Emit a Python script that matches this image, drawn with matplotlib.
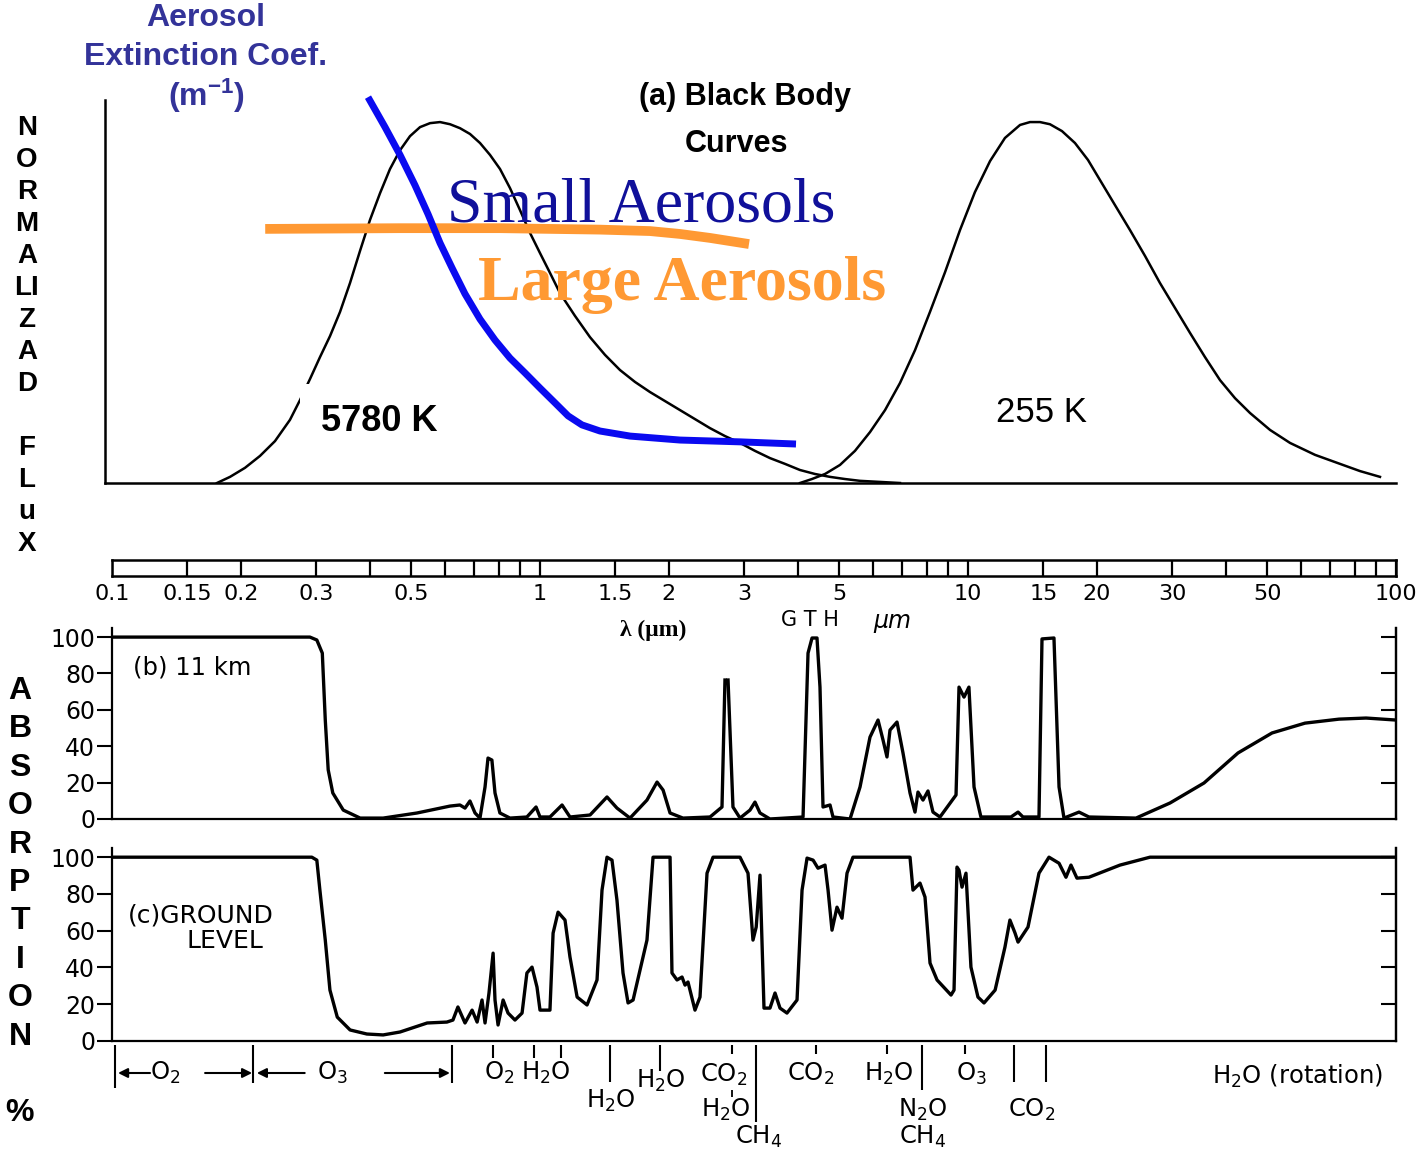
"""Black-body curves with aerosol extinction, and atmospheric absorption vs wavelength."""

import matplotlib
matplotlib.use("Agg")
import matplotlib.pyplot as plt

W, H = 1427, 1153
NAN = float("nan")

# (a) normalised black-body curves (x: wavelength in um)
sun_wl = [0.1759, 0.1887, 0.2045, 0.2217, 0.2403, 0.2605, 0.2750, 0.2901, 0.3062, 0.3231,
          0.3410, 0.3598, 0.3797, 0.4007, 0.4229, 0.4462, 0.4709, 0.4969, 0.5244, 0.5534,
          0.5840, 0.6163, 0.6503, 0.6862, 0.7241, 0.7642, 0.8064, 0.8510, 0.8980, 0.9476,
          1.0, 1.0553, 1.1136, 1.2070, 1.3087, 1.4185, 1.5377, 1.6670, 1.8071, 1.9589,
          2.1236, 2.3021, 2.4955, 2.7052, 2.9326, 3.1789, 3.4460, 3.7356, 4.0496, 4.3898,
          4.7587, 5.1586, 5.5920, 6.2287, 6.9359]
sun_val = [0.0, 0.017, 0.042, 0.075, 0.116, 0.175, 0.230, 0.288, 0.349, 0.407,
           0.474, 0.554, 0.643, 0.729, 0.803, 0.870, 0.922, 0.961, 0.986, 0.997,
           1.0, 0.994, 0.983, 0.967, 0.942, 0.909, 0.870, 0.817, 0.756, 0.693,
           0.637, 0.582, 0.526, 0.463, 0.404, 0.355, 0.313, 0.280, 0.252, 0.227,
           0.202, 0.177, 0.152, 0.130, 0.111, 0.089, 0.069, 0.053, 0.036, 0.025,
           0.017, 0.011, 0.006, 0.003, 0.0]

earth_wl = [4.050, 4.319, 4.634, 5.022, 5.444, 5.902, 6.400, 6.936, 7.519, 8.150,
            8.837, 9.580, 10.38, 11.26, 12.20, 13.23, 13.96, 14.73, 15.54, 16.58,
            17.78, 19.07, 20.35, 22.05, 23.90, 25.92, 28.09, 30.45, 33.01, 35.78,
            38.80, 42.06, 45.59, 50.78, 56.55, 64.68, 73.98, 82.40, 91.75]
earth_val = [0.0, 0.011, 0.025, 0.050, 0.089, 0.141, 0.202, 0.277, 0.368, 0.474,
             0.584, 0.701, 0.806, 0.892, 0.956, 0.992, 1.0, 1.0, 0.994, 0.975,
             0.942, 0.895, 0.839, 0.770, 0.701, 0.629, 0.554, 0.485, 0.416, 0.349,
             0.285, 0.235, 0.194, 0.147, 0.111, 0.078, 0.053, 0.033, 0.017]

small_wl = [0.3964, 0.4344, 0.4709, 0.5104, 0.5475, 0.5840, 0.6229, 0.6679, 0.7241, 0.7850,
            0.8510, 0.9225, 1.0, 1.084, 1.163, 1.253, 1.381, 1.623, 2.124, 2.933, 3.964]
small_val = [1.069, 0.986, 0.909, 0.825, 0.745, 0.665, 0.596, 0.524, 0.454, 0.396,
             0.346, 0.305, 0.263, 0.222, 0.186, 0.161, 0.144, 0.130, 0.119, 0.114, 0.108]

large_wl = [0.228, 0.471, 0.806, 1.381, 1.807, 2.124, 2.496, 3.078]
large_val = [0.704, 0.706, 0.706, 0.702, 0.698, 0.690, 0.679, 0.662]

# wavelength ruler
ruler_major = [0.1, 0.15, 0.2, 0.3, 0.5, 1, 1.5, 2, 3, 5, 10, 15, 20, 30, 50, 100]
ruler_labels = ["0.1", "0.15", "0.2", "0.3", "0.5", "1", "1.5", "2", "3", "5",
                "10", "15", "20", "30", "50", "100"]
ruler_minor = [0.4, 0.6, 0.7, 0.8, 0.9, 4, 6, 7, 8, 9, 40, 60, 70, 80, 90]

# (b) absorption at 11 km, percent
km11_wl = [0.1, 0.290, 0.301, 0.310, 0.315, 0.320, 0.328, 0.347, 0.380, 0.430,
           0.516, 0.616, 0.650, 0.668, 0.686, 0.705, 0.724, 0.744, 0.756, 0.772,
           0.785, 0.806, 0.851, 0.932, 0.979, 1.0, 1.055, 1.126, 1.175, 1.309,
           1.434, 1.513, 1.623, 1.778, 1.877, 1.939, 2.013, 2.158, 2.496, 2.662,
           2.705, 2.727, 2.750, 2.824, 2.933, 3.095, 3.179, 3.266, 3.446, 4.117,
           4.229, 4.321, 4.438, 4.510, 4.584, 4.760, 4.837, 5.301, 5.594, 5.902,
           6.163, 6.331, 6.467, 6.573, 6.825, 7.049, 7.320, 7.519, 7.641, 7.850,
           8.063, 8.283, 8.601, 9.376, 9.528, 9.788, 10.05, 10.33, 10.72, 12.60,
           13.09, 13.44, 14.65, 14.89, 15.88, 16.32, 16.76, 18.17, 19.17, 24.69,
           29.65, 35.60, 42.74, 51.33, 61.29, 73.59, 85.12, 100]
km11_pct = [100, 100, 98.4, 91.2, 54.4, 27, 14.3, 4.9, 0.5, 0.5,
            3.3, 7.1, 7.7, 6.0, 9.9, 3.3, 0.5, 17.6, 33.5, 32.4,
            14.3, 3.3, 0.5, 1.1, 6.6, 1.1, 1.1, 7.7, 1.1, 2.2,
            12.1, 6.0, 0.5, 10.4, 20.3, 15.9, 3.3, 0.5, 1.1, 6.6,
            76.4, NAN, 76.4, 6.6, 0.5, 4.9, 9.3, 3.3, 0, 1.1,
            91.2, 99.5, 99.5, 72.5, 6.6, 7.7, 1.1, 0, 17.6, 45,
            54.4, 43.4, 34.1, 48.9, 53.3, 36.3, 14.3, 3.8, 14.8, 10.4,
            15.4, 3.8, 1.1, 13.2, 72.5, 67, 72.5, 17.6, 1.1, 1.1,
            3.8, 1.1, 1.1, 99.0, 99.5, 17.6, 0.5, 3.8, 1.1, 0.5,
            8.8, 19.8, 36.3, 47.3, 52.7, 54.9, 55.5, 54.4]

# (c) absorption at ground level, percent
ground_wl = [0.1, 0.293, 0.301, 0.306, 0.315, 0.323, 0.336, 0.360, 0.394, 0.430,
             0.471, 0.545, 0.606, 0.626, 0.643, 0.668, 0.694, 0.713, 0.732, 0.744,
             0.760, 0.777, 0.785, 0.798, 0.820, 0.842, 0.874, 0.908, 0.932, 0.958,
             0.984, 1.0, 1.055, 1.073, 1.102, 1.144, 1.175, 1.221, 1.288, 1.359,
             1.396, 1.434, 1.473, 1.513, 1.563, 1.606, 1.650, 1.778, 1.837, 2.013,
             2.034, 2.090, 2.147, 2.182, 2.217, 2.302, 2.365, 2.456, 2.537, 2.933,
             3.062, 3.145, 3.200, 3.266, 3.337, 3.446, 3.541, 3.637, 3.776, 3.986,
             4.095, 4.207, 4.346, 4.462, 4.634, 4.710, 4.811, 4.942, 5.077, 5.216,
             5.386, 7.320, 7.438, 7.724, 7.935, 8.152, 8.466, 9.127, 9.276, 9.426,
             9.528, 9.683, 9.892, 10.16, 10.55, 10.90, 11.57, 12.20, 12.53, 12.88,
             13.09, 13.81, 14.65, 15.46, 16.32, 16.94, 17.40, 17.97, 19.17, 22.65,
             26.62, 100]
ground_pct = [100, 100, 98.4, 82.1, 54.9, 27.7, 13.0, 6.0, 3.8, 3.3,
              4.9, 9.8, 10.3, 11.4, 18.5, 9.8, 16.8, 10.3, 22.3, 9.8,
              26.1, 47.8, 22.3, 8.7, 22.3, 15.2, 11.4, 15.2, 37, 40.2,
              29.3, 16.8, 16.8, 58.7, 70.1, 65.8, 45.7, 23.9, 19.6, 33.2,
              82.1, 100, 98.4, 76.6, 37, 20.7, 22.3, 54.9, 100, 100,
              37, 33.2, 34.8, 30.4, 32.1, 16.8, 23.9, 91.3, 100, 100,
              91.3, 54.9, 62, 90.2, 17.9, 17.9, 26.1, 17.9, 15.2, 22.3,
              82.1, 99.5, 98.4, 94, 95.7, 82.1, 60.3, 72.8, 66.8, 91.3,
              100, 100, 82.1, 85.9, 78.3, 42.4, 33.2, 25, 27.7, 94.6,
              92.9, 83.7, 91.3, 40.2, 23.9, 20.7, 27.7, 51.1, 65.8, 58.7,
              53.8, 62, 91.3, 100, 96.7, 89.1, 95.7, 88.6, 89.1, 95.7,
              100, 100]
pct_ticks = [0, 20, 40, 60, 80, 100]

# absorbing gases under panel (c)
band_wl = [0.1016, 0.213, 0.623, 0.777, 0.968, 1.119, 1.458, 1.907, 2.81, 3.20,
           4.415, 6.467, 7.806, 9.84, 12.81, 15.21]
band_end = [47, 42, 42, 17, 17, 17, 41, 30, 13, 81, 13, 13, 49, 13, 41, 41]
gas_text = ["O$_2$", "O$_3$", "O$_2$", "H$_2$O", "H$_2$O", "H$_2$O", "CO$_2$",
            "H$_2$O", "CH$_4$", "CO$_2$", "H$_2$O", "N$_2$O", "CH$_4$", "O$_3$",
            "CO$_2$", "H$_2$O (rotation)"]
gas_wl = [0.133, 0.328, 0.802, 1.033, 1.465, 1.918, 2.691, 2.720, 3.249, 4.297,
          6.538, 7.850, 7.850, 10.16, 14.11, 59.0]
gas_y = [32, 32, 32, 32, 60, 40, 34, 69, 96, 33, 33, 69, 96, 33, 69, 35]
arrow_tail = [0.1227, 0.165, 0.282, 0.434]
arrow_head = [0.1033, 0.2125, 0.218, 0.616]

plt.rcParams["font.family"] = ["DejaVu Sans"]
plt.rcParams["mathtext.default"] = "regular"

fig = plt.figure(figsize=(W / 100, H / 100), dpi=100)


def box(x0, x1, y0, y1):
    """Axes rectangle from reference pixels: left, right, top, bottom."""
    return fig.add_axes([x0 / W, 1 - y1 / H, (x1 - x0) / W, (y1 - y0) / H])


def ftext(px, py, s, **kw):
    fig.text(px / W, 1 - py / H, s, **kw)


# ---- (a) black body panel ----
ax = box(105, 1396, 95, 483)
ax.set_xscale("log")
ax.set_xlim(0.0963, 100)
ax.set_ylim(0, 1.075)
ax.plot(sun_wl, sun_val, color="k", lw=1.8, zorder=2)
ax.plot(earth_wl, earth_val, color="k", lw=1.8, zorder=2)
ax.plot(large_wl, large_val, color="#ff9933", lw=7, solid_capstyle="butt", zorder=3)
ax.plot(small_wl, small_val, color="#0a0af0", lw=5, solid_capstyle="butt",
        zorder=4, clip_on=False)
ax.spines[["top", "right"]].set_visible(False)
ax.spines["left"].set_bounds(0, 1.061)
ax.spines[["left", "bottom"]].set_linewidth(1.8)
ax.tick_params(which="both", bottom=False, left=False, labelbottom=False, labelleft=False)
ax.patch.set_alpha(0)

# ---- wavelength ruler ----
axr = box(112, 1396, 560, 576)
axr.set_xscale("log")
axr.set_xlim(0.1, 100)
axr.set_ylim(0, 1)
axr.vlines(ruler_major + ruler_minor, 0, 1, color="k", lw=1.6)
axr.set_xticks(ruler_major, labels=ruler_labels)
axr.minorticks_off()
axr.tick_params(axis="x", length=0, pad=6, labelsize=16)
axr.set_yticks([])
for s in axr.spines.values():
    s.set_linewidth(1.8)


def absorption_panel(y0, y1, wl, pct):
    a = box(112, 1396, y0, y1)
    a.set_xscale("log")
    a.set_xlim(0.1, 100)
    a.set_ylim(0, 105)
    a.plot(wl, pct, color="k", lw=2.4, solid_joinstyle="round")
    a.spines["top"].set_visible(False)
    for s in a.spines.values():
        s.set_linewidth(1.6)
    a.set_yticks(pct_ticks)
    a.tick_params(axis="y", direction="out", length=11, width=1.5, pad=1, labelsize=17)
    a.tick_params(axis="x", which="both", bottom=False, labelbottom=False)
    r = a.twinx()
    r.set_ylim(0, 105)
    r.set_yticks(pct_ticks[1:])
    r.tick_params(axis="y", direction="in", length=11, width=1.5, labelright=False)
    r.spines[["top", "left", "bottom"]].set_visible(False)
    r.spines["right"].set_linewidth(1.6)
    return a


absorption_panel(628, 819, km11_wl, km11_pct)
absorption_panel(848, 1041, ground_wl, ground_pct)

# ---- gas labels under (c) ----
axn = box(112, 1396, 1041, 1153)
axn.set_xscale("log")
axn.set_xlim(0.1, 100)
axn.set_ylim(112, 0)
axn.axis("off")
axn.vlines(band_wl, 4, band_end, color="k", lw=1.5)
axn.vlines([2.81], 49, 56, color="k", lw=1.3)
for t, x, y in zip(gas_text, gas_wl, gas_y):
    axn.text(x, y, t, ha="center", va="center", fontsize=17.5)
for x0, x1 in zip(arrow_tail, arrow_head):
    axn.annotate("", xy=(x1, 32), xytext=(x0, 32),
                 arrowprops=dict(arrowstyle="-|>", lw=1.5, color="k", mutation_scale=14,
                                 shrinkA=0, shrinkB=0))

# ---- texts ----
navy = "#333399"
for py, s in [(18, "Aerosol"), (57, "Extinction Coef."), (96, "(m$^{-1}$)")]:
    ftext(206, py, s, ha="center", va="center", fontsize=23, fontweight="bold",
          color=navy, family="Liberation Sans")

ftext(745, 97, "(a) Black Body", ha="center", va="center", fontsize=22,
      fontweight="bold", family="Liberation Sans")
ftext(737, 144, "Curves", ha="center", va="center", fontsize=22, fontweight="bold",
      family="Liberation Sans")
ftext(447, 221, "Small Aerosols", ha="left", va="baseline", fontsize=46,
      color="#10109a", family="Liberation Serif")
ftext(478, 300, "Large Aerosols", ha="left", va="baseline", fontsize=46,
      fontweight="bold", color="#ff9933", family="Liberation Serif")
ftext(321, 422, "5780 K", ha="left", va="center", fontsize=26, fontweight="bold",
      family="Liberation Sans",
      bbox=dict(facecolor="white", edgecolor="none", pad=15))
ftext(1041, 412, "255 K", ha="center", va="center", fontsize=25, family="Liberation Sans")

ftext(653, 630, "λ (μm)", ha="center", va="center", fontsize=17, fontweight="bold",
      family="Liberation Serif")
ftext(810, 620, "G T H", ha="center", va="center", fontsize=15)
ftext(892, 621, "μm", ha="center", va="center", fontsize=17, style="italic")

ftext(133, 668, "(b) 11 km", ha="left", va="center", fontsize=17.5)
ftext(128, 915, "(c)GROUND", ha="left", va="center", fontsize=18)
ftext(225, 941, "LEVEL", ha="center", va="center", fontsize=18)

for i, ch in enumerate(["N", "O", "R", "M", "A", "LI", "Z", "A", "D", "", "F", "L", "u", "X"]):
    ftext(27, 128 + 32 * i, ch, ha="center", va="center", fontsize=20,
          fontweight="bold", family="Liberation Sans")
for i, ch in enumerate(["A", "B", "S", "O", "R", "P", "T", "I", "O", "N", "", "%"]):
    ftext(20, 691 + 38.4 * i, ch, ha="center", va="center", fontsize=23,
          fontweight="bold", family="Liberation Sans")

fig.savefig("out.png", dpi=100)
